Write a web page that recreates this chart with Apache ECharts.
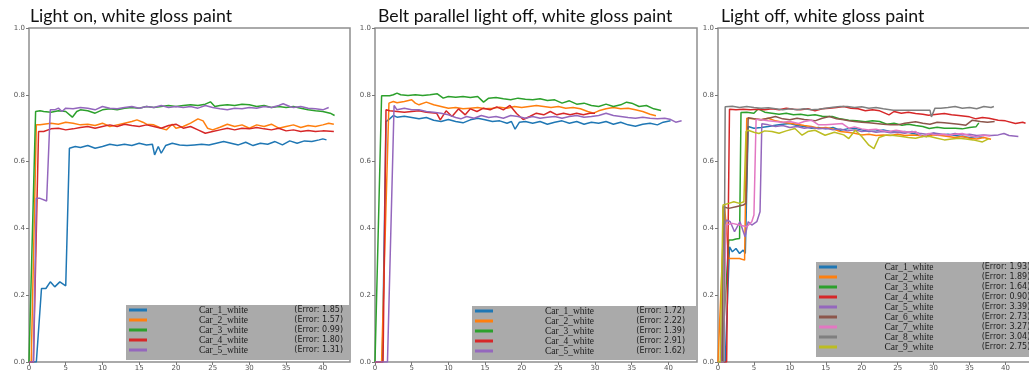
<!DOCTYPE html>
<html>
<head>
<meta charset="utf-8">
<script src="https://cdn.jsdelivr.net/npm/echarts@6/dist/echarts.min.js"></script>
<style>
html, body { margin: 0; padding: 0; background: #fff; }
#chart { width: 1029px; height: 376px; }
</style>
</head>
<body>
<div id="chart"></div>
<script>
// names, colours and titles
var carNames = ['Car_1_white', 'Car_2_white', 'Car_3_white', 'Car_4_white', 'Car_5_white',
	'Car_6_white', 'Car_7_white', 'Car_8_white', 'Car_9_white'];
var titles = ['Light on, white gloss paint', 'Belt parallel light off, white gloss paint', 'Light off, white gloss paint'];
var yTicks = [0, 0.2, 0.4, 0.6, 0.8, 1.0];
var xTicks = [0, 5, 10, 15, 20, 25, 30, 35, 40];

var errors1 = ['1.85', '1.57', '0.99', '1.80', '1.31'];
var errors2 = ['1.72', '2.22', '1.39', '2.91', '1.62'];
var errors3 = ['1.93', '1.89', '1.64', '0.90', '3.39', '2.73', '3.27', '3.04', '2.75'];

// panel 1 : light on  ([seconds, value])
var p1Car1 = [[0,0],[1,0],[1.7,0.22],[2.3,0.22],[2.9,0.24],[3.5,0.225],[4.2,0.24],[5,0.228],[5.5,0.64],[6.3,0.645],[7,0.642],[8,0.648],[9,0.64],[10,0.645],[11,0.652],[12,0.648],[13,0.652],[14,0.648],[15,0.655],[16,0.65],[16.8,0.652],[17.1,0.62],[17.6,0.645],[18.0,0.625],[18.6,0.648],[19.5,0.655],[20.5,0.65],[21.5,0.648],[22.5,0.65],[23.5,0.652],[24.5,0.65],[25.5,0.655],[26.5,0.66],[27.5,0.655],[28.5,0.65],[29.5,0.658],[30.5,0.648],[31.5,0.655],[32.5,0.652],[33.5,0.66],[34.5,0.65],[35.5,0.662],[36.5,0.655],[37.5,0.662],[38.5,0.66],[39.5,0.665],[40,0.668],[40.5,0.665]];
var p1Car2 = [[0,0],[0.3,0],[1,0.71],[1.5,0.71],[2,0.712],[3,0.715],[4,0.712],[5,0.718],[6,0.715],[7,0.71],[8,0.712],[9,0.708],[10,0.715],[11,0.705],[12,0.71],[13,0.715],[14,0.72],[14.7,0.725],[15.5,0.718],[16,0.712],[17,0.71],[18,0.7],[18.7,0.695],[19.5,0.712],[20,0.7],[21,0.705],[22,0.715],[23,0.728],[23.7,0.722],[24.3,0.7],[25,0.695],[26,0.703],[27,0.712],[28,0.705],[29,0.71],[30,0.7],[31,0.71],[32,0.705],[33,0.712],[34,0.7],[35,0.705],[36,0.71],[37,0.702],[38,0.708],[39,0.705],[40,0.71],[40.8,0.715],[41.5,0.712]];
var p1Car3 = [[0,0],[0.9,0.75],[1.5,0.752],[2,0.75],[3,0.748],[4,0.752],[5,0.75],[5.9,0.733],[6.5,0.75],[7,0.755],[8,0.752],[9,0.745],[10,0.755],[11,0.758],[12,0.755],[13,0.76],[14,0.762],[15,0.76],[16,0.765],[17,0.762],[18,0.765],[19,0.768],[20,0.765],[21,0.768],[22,0.77],[23,0.768],[24,0.772],[24.7,0.779],[25.3,0.765],[26,0.768],[27,0.77],[28,0.768],[29,0.772],[30,0.77],[31,0.765],[32,0.768],[33,0.762],[34,0.765],[35,0.762],[36,0.765],[37,0.76],[38,0.755],[39,0.752],[40,0.75],[41,0.745],[41.6,0.738]];
var p1Car4 = [[0,0],[0.6,0],[1.3,0.69],[2,0.69],[3,0.698],[4,0.7],[5,0.695],[6,0.698],[7,0.702],[8,0.705],[9,0.7],[10,0.705],[11,0.71],[12,0.705],[13,0.712],[14,0.708],[15,0.705],[16,0.71],[17,0.705],[18,0.7],[19,0.708],[20,0.712],[21,0.7],[22,0.705],[23,0.695],[24,0.685],[25,0.69],[26,0.695],[27,0.7],[28,0.695],[29,0.7],[30,0.698],[31,0.702],[32,0.698],[33,0.695],[34,0.7],[35,0.692],[36,0.695],[37,0.69],[38,0.693],[39,0.69],[40,0.692],[41.5,0.69]];
var p1Car5 = [[0,0],[0.6,0],[1,0.49],[1.5,0.49],[2.4,0.482],[2.9,0.755],[3.5,0.755],[4,0.76],[4.5,0.75],[5,0.76],[6,0.758],[7,0.762],[8,0.76],[9,0.755],[10,0.765],[11,0.76],[12,0.758],[13,0.762],[14,0.765],[15,0.76],[16,0.765],[17,0.762],[18,0.768],[19,0.762],[20,0.765],[21,0.762],[22,0.765],[23,0.76],[24,0.768],[25,0.762],[26,0.758],[27,0.755],[28,0.76],[29,0.758],[30,0.762],[31,0.76],[32,0.765],[33,0.762],[34,0.768],[34.6,0.773],[35.5,0.765],[36,0.762],[37,0.765],[38,0.76],[39,0.758],[40,0.755],[40.8,0.762]];

// panel 2 : belt parallel light off
var p2Car1 = [[0,0],[1.0,0],[1.5,0.72],[2,0.728],[2.5,0.738],[3,0.733],[4,0.736],[5,0.732],[6,0.728],[7,0.732],[8,0.724],[9,0.72],[10,0.726],[11,0.72],[12,0.716],[13,0.725],[14,0.73],[15,0.725],[16,0.72],[17,0.722],[18,0.715],[18.6,0.72],[19.1,0.697],[19.7,0.718],[20.5,0.72],[21.5,0.715],[22.5,0.72],[23.5,0.712],[24.5,0.718],[25.5,0.722],[26.5,0.715],[27.5,0.72],[28.5,0.712],[29.5,0.718],[30.5,0.715],[31.5,0.72],[32.5,0.712],[33.5,0.718],[34.5,0.71],[35.5,0.706],[36.5,0.712],[37.5,0.715],[38.5,0.71],[39.3,0.718],[40.3,0.722]];
var p2Car2 = [[0,0],[0.9,0],[1.9,0.775],[2.5,0.78],[3,0.776],[4,0.78],[5,0.785],[5.5,0.775],[6,0.77],[7,0.778],[8,0.77],[9,0.765],[10,0.76],[11,0.762],[12,0.758],[13,0.76],[14,0.762],[15,0.758],[16,0.76],[17,0.763],[18,0.76],[19,0.765],[20,0.762],[21,0.765],[22,0.768],[23,0.765],[24,0.762],[25,0.765],[26,0.76],[27,0.762],[28,0.758],[29,0.75],[29.8,0.745],[30.5,0.752],[31.5,0.758],[32.5,0.762],[33.5,0.758],[34.5,0.76],[35.5,0.755],[36.5,0.75],[37.5,0.742],[38.3,0.737]];
var p2Car3 = [[0,0],[0.9,0.797],[2,0.797],[2.5,0.8],[3,0.805],[3.5,0.8],[4.5,0.798],[5.5,0.8],[6.5,0.798],[7.5,0.8],[8.5,0.803],[9.3,0.79],[10,0.795],[11,0.793],[12,0.795],[13,0.792],[14,0.795],[14.8,0.778],[15.5,0.79],[16.5,0.792],[17.5,0.788],[18.5,0.785],[19.5,0.79],[20.5,0.787],[21.5,0.785],[22.5,0.788],[23.5,0.783],[24.5,0.785],[25.5,0.775],[26.5,0.782],[27.5,0.772],[28.5,0.775],[29.5,0.768],[30.5,0.765],[31.5,0.772],[32.5,0.765],[33.5,0.77],[34.3,0.778],[35,0.775],[36,0.765],[37,0.768],[38,0.758],[39,0.753]];
var p2Car4 = [[0,0],[1.1,0],[1.5,0.755],[2,0.752],[3,0.75],[4,0.748],[5,0.75],[6,0.752],[7,0.748],[8.4,0.745],[8.9,0.725],[9.7,0.752],[10.5,0.735],[11.4,0.758],[12.3,0.74],[13,0.758],[13.9,0.75],[14.8,0.76],[15.7,0.755],[16.6,0.764],[17.5,0.755],[18.4,0.768],[19.3,0.744],[20.2,0.726],[21.1,0.735],[22,0.745],[23,0.74],[23.9,0.75],[24.8,0.74],[25.7,0.745],[26.6,0.74],[27.5,0.745],[28.4,0.74],[29.3,0.745],[30,0.745]];
var p2Car5 = [[0,0],[1.7,0],[2.6,0.768],[3,0.755],[4,0.76],[5,0.755],[6,0.755],[7,0.75],[8,0.748],[9,0.745],[10,0.74],[11,0.732],[11.7,0.728],[12.5,0.735],[13.5,0.73],[14.5,0.738],[15.5,0.732],[16.5,0.735],[17.5,0.73],[18.5,0.738],[19.5,0.735],[20.5,0.73],[21.5,0.735],[22.5,0.73],[23.5,0.733],[24.5,0.735],[25.5,0.73],[26.5,0.735],[27.5,0.738],[28.5,0.733],[29.5,0.735],[30.5,0.738],[31.5,0.745],[32.5,0.738],[33.5,0.735],[34.5,0.732],[35.5,0.73],[36.5,0.733],[37.5,0.73],[38.5,0.728],[39.5,0.73],[40.2,0.727],[41,0.718],[41.8,0.722]];

// panel 3 : light off
var p3Car1 = [[0,0],[1.0,0],[1.6,0.345],[2,0.33],[2.5,0.34],[3,0.325],[3.5,0.335],[3.8,0.325],[4.2,0.705],[5,0.70],[6,0.702],[7,0.705],[8,0.709],[9,0.712],[10,0.714],[11,0.708],[12,0.705],[13,0.7],[14,0.702],[15,0.698],[16,0.702],[17,0.694],[18,0.698],[19,0.7],[20,0.695],[21,0.69],[22,0.692],[23,0.695],[24,0.69],[25,0.688],[26,0.69],[27,0.685],[28,0.68],[29,0.675],[30,0.685],[31,0.68],[32,0.682],[33,0.678],[34,0.675],[35,0.672],[36,0.675],[37,0.672]];
var p3Car2 = [[0,0],[0.2,0],[0.9,0.47],[1.5,0.31],[2,0.31],[3,0.31],[3.7,0.305],[4.0,0.73],[5,0.728],[6,0.725],[7,0.73],[8,0.722],[9,0.718],[10,0.715],[11,0.712],[12,0.708],[13,0.705],[14,0.7],[15,0.702],[16,0.698],[17,0.69],[18,0.688],[19,0.685],[20,0.68],[21,0.682],[22,0.678],[23,0.68],[24,0.678],[25,0.682],[26,0.678],[27,0.68],[28,0.678],[29,0.675],[30,0.68],[31,0.678],[32,0.675],[33,0.672],[34,0.675],[35,0.67],[36,0.668],[37,0.672],[38,0.667]];
var p3Car3 = [[0,0],[0.5,0],[1.5,0.365],[2,0.365],[2.5,0.368],[3.0,0.37],[3.2,0.747],[4,0.748],[5,0.745],[5.6,0.758],[6.5,0.748],[7.5,0.745],[8.5,0.742],[9.5,0.745],[10.5,0.74],[11.5,0.742],[12.5,0.738],[13.5,0.74],[14.5,0.736],[15.9,0.735],[17,0.728],[18.2,0.724],[19.3,0.722],[20.5,0.719],[21.5,0.722],[22.5,0.72],[23.5,0.712],[24.5,0.715],[25.6,0.709],[26.5,0.712],[27.5,0.708],[28.5,0.705],[29.4,0.699],[30.5,0.703],[31.5,0.7],[33,0.7],[34,0.698],[35,0.702],[35.9,0.704],[36.3,0.716]];
var p3Car4 = [[0,0],[1.2,0],[1.6,0.757],[2.5,0.755],[3.5,0.757],[4.5,0.755],[5.5,0.757],[6.5,0.755],[7.5,0.758],[8.5,0.755],[9.5,0.76],[10.5,0.757],[11.5,0.755],[12.5,0.758],[13.5,0.752],[14.5,0.758],[15.5,0.76],[16.5,0.762],[17.5,0.765],[18.5,0.76],[19.5,0.758],[20.5,0.752],[21.5,0.755],[22.5,0.752],[23.8,0.74],[24.5,0.75],[25.5,0.745],[26.5,0.748],[27.5,0.744],[28.5,0.742],[29.3,0.739],[30.5,0.742],[31.5,0.744],[32.5,0.74],[33.5,0.738],[35,0.734],[35.9,0.728],[36.8,0.732],[37.7,0.73],[39,0.724],[40,0.722],[41.4,0.714],[42.4,0.718],[42.8,0.715]];
var p3Car5 = [[0,0],[0.5,0],[0.7,0.40],[1.2,0.425],[1.7,0.42],[2.3,0.39],[3.06,0.42],[3.76,0.375],[4.2,0.42],[4.7,0.41],[5.4,0.42],[5.85,0.45],[6.1,0.713],[7,0.71],[8,0.705],[9,0.708],[10,0.702],[11,0.705],[12,0.7],[13,0.703],[14,0.698],[15,0.7],[16,0.695],[17,0.698],[18,0.692],[19,0.695],[20,0.69],[21,0.692],[22,0.688],[23,0.69],[24,0.686],[25,0.688],[26,0.685],[27,0.69],[28,0.685],[29,0.682],[30,0.686],[31,0.683],[32,0.68],[33,0.684],[34,0.68],[35,0.682],[36,0.678],[37,0.68],[38,0.678],[39,0.68],[39.8,0.684],[40.5,0.678],[41.8,0.675]];
var p3Car6 = [[0,0],[0.6,0],[0.7,0.465],[1.5,0.46],[2.5,0.465],[3.5,0.47],[3.9,0.475],[4.2,0.731],[5,0.728],[6,0.725],[7,0.73],[8,0.735],[9,0.728],[10,0.725],[11,0.73],[12,0.726],[13.5,0.722],[14.5,0.73],[15.5,0.735],[16.5,0.728],[17.5,0.725],[18.2,0.722],[19,0.72],[20,0.718],[21,0.716],[22,0.714],[23,0.712],[24,0.71],[25,0.71],[26,0.715],[27.5,0.719],[28.5,0.715],[29.5,0.712],[30.5,0.718],[31.5,0.716],[32.5,0.714],[33.5,0.712],[34.5,0.709],[35.4,0.724],[36.5,0.72],[37.5,0.718],[38.5,0.72]];
var p3Car7 = [[0,0],[0.8,0],[1.1,0.41],[2,0.415],[3,0.41],[4,0.405],[4.7,0.42],[5.0,0.44],[5.3,0.727],[6,0.725],[7,0.722],[8,0.72],[9,0.718],[10,0.72],[11.2,0.714],[12,0.72],[13,0.724],[14,0.71],[15,0.71],[16,0.712],[17.3,0.714],[18.2,0.7],[19,0.704],[20,0.698],[21,0.695],[22,0.697],[23,0.692],[23.8,0.69],[24.8,0.694],[25.8,0.69],[26.8,0.688],[27.5,0.69],[28.4,0.674],[29.3,0.684],[30.5,0.68],[31.5,0.682],[32.1,0.679],[33,0.682],[34,0.684],[35,0.678],[35.9,0.674],[36.8,0.679],[37.9,0.677]];
var p3Car8 = [[0,0],[0.8,0],[1.0,0.764],[2,0.766],[3,0.762],[4,0.765],[5,0.762],[6,0.76],[7,0.761],[8,0.758],[9,0.755],[10,0.758],[11,0.755],[12,0.758],[13,0.755],[14,0.757],[15,0.76],[16,0.763],[17,0.765],[18,0.765],[19,0.762],[20,0.764],[21,0.76],[22,0.762],[23,0.758],[24.4,0.754],[25.5,0.754],[26.5,0.754],[27.5,0.754],[28.5,0.754],[29.5,0.754],[29.7,0.734],[30.2,0.76],[31,0.76],[32,0.762],[33,0.765],[34,0.76],[35,0.762],[36,0.758],[37,0.765],[38,0.762],[38.4,0.765]];
var p3Car9 = [[0,0],[0.3,0],[0.7,0.47],[1.5,0.475],[2.2,0.48],[3,0.475],[3.6,0.48],[3.9,0.69],[4.2,0.694],[5,0.688],[5.7,0.684],[6.5,0.692],[7.5,0.69],[8.5,0.685],[9.5,0.692],[10.7,0.699],[11.7,0.679],[12.5,0.69],[13.5,0.694],[14.9,0.679],[16.2,0.688],[17.5,0.68],[18.2,0.669],[19.1,0.694],[20,0.675],[21,0.649],[21.7,0.639],[22.4,0.672],[23.5,0.68],[24.5,0.678],[25.6,0.675],[26.5,0.672],[27.5,0.67],[28.5,0.675],[29.5,0.675],[30.5,0.67],[31.5,0.665],[32.5,0.668],[33.5,0.67],[34.5,0.668],[35.5,0.665],[36.8,0.659],[37.7,0.669]];

var panel1 = [p1Car1, p1Car2, p1Car3, p1Car4, p1Car5];
var panel2 = [p2Car1, p2Car2, p2Car3, p2Car4, p2Car5];
var panel3 = [p3Car1, p3Car2, p3Car3, p3Car4, p3Car5, p3Car6, p3Car7, p3Car8, p3Car9];

var colors = ['#1f77b4', '#ff7f0e', '#2ca02c', '#d62728', '#9467bd', '#8c564b', '#e377c2', '#7f7f7f', '#bcbd22'];

function showChart(divId) {
	var chart = echarts.init(document.getElementById(divId), null, { renderer: 'canvas' });
	var option = genOption();
	chart.setOption(option, true);
}

function genOption() {
	var grids = [
		{ left: 29, top: 28, width: 321, height: 334 },
		{ left: 375, top: 28, width: 322, height: 334 },
		{ left: 718, top: 28, width: 314, height: 334 }
	];
	var xMax = [43.7, 43.9, 43.7];
	var panels = [panel1, panel2, panel3];
	var errs = [errors1, errors2, errors3];
	var titleLeft = [30, 378, 721];

	var xAxis = [], yAxis = [], series = [], title = [], legend = [];

	for (var p = 0; p < 3; p++) {
		grids[p].show = true;
		grids[p].borderColor = '#8e8e8e';
		grids[p].borderWidth = 1.5;
		grids[p].backgroundColor = '#fff';
		grids[p].containLabel = false;
		grids[p].outerBoundsMode = 'none';

		xAxis.push({
			type : 'value',
			gridIndex : p,
			min : 0,
			max : xMax[p],
			interval : 5,
			name : 'seconds',
			nameLocation : 'middle',
			nameGap : 11,
			nameTextStyle : { fontSize : 7, color : '#555', fontFamily : 'DejaVu Sans', verticalAlign : 'top' },
			axisLine : { show : false },
			axisTick : { length : 3, lineStyle : { color : '#777' } },
			splitLine : { show : false },
			axisLabel : {
				fontSize : 7, color : '#555', fontFamily : 'DejaVu Sans', margin : 3,
				showMaxLabel : false,
				formatter : function (v) { return xTicks.indexOf(v) >= 0 ? String(v) : ''; }
			}
		});
		yAxis.push({
			type : 'value',
			gridIndex : p,
			min : 0,
			max : 1,
			interval : 0.2,
			axisLine : { show : false },
			axisTick : { length : 3, lineStyle : { color : '#777' } },
			splitLine : { show : false },
			axisLabel : {
				fontSize : 7, color : '#555', fontFamily : 'DejaVu Sans', margin : 4,
				formatter : function (v) { return v.toFixed(1); }
			}
		});
		title.push({
			text : titles[p],
			left : titleLeft[p],
			top : 7,
			padding : 0,
			textStyle : { fontFamily : 'Lato', fontWeight : 'normal', fontSize : 17.7, color : '#111' }
		});

		var names = [];
		for (var i = 0; i < panels[p].length; i++) {
			names.push(carNames[i]);
			series.push({
				name : carNames[i],
				type : 'line',
				xAxisIndex : p,
				yAxisIndex : p,
				showSymbol : false,
				symbol : 'none',
				animation : false,
				color : colors[i],
				lineStyle : { width : 1.5, color : colors[i] },
				data : panels[p][i]
			});
		}
		legend.push(genLegend(p, names, errs[p]));
	}

	return {
		animation : false,
		title : title,
		grid : grids,
		xAxis : xAxis,
		yAxis : yAxis,
		legend : legend,
		series : series
	};
}

function genLegend(p, names, errs) {
	var pos = [
		{ left : 126, top : 305, nameW : 143, errW : 48, errAlign : 'right', lh : 10.3, pad : [0, 8, 5, 3] },
		{ left : 472, top : 306, nameW : 143, errW : 44, errAlign : 'right', lh : 10.3, pad : [0, 12, 4, 3] },
		{ left : 816, top : 262, nameW : 134, errW : 60, errAlign : 'left', lh : 10.5, pad : [0, 6, 5, 3] }
	][p];
	return {
		orient : 'vertical',
		left : pos.left,
		top : pos.top,
		padding : pos.pad,
		itemGap : 0,
		itemWidth : 18,
		itemHeight : 3,
		icon : 'rect',
		selectedMode : false,
		backgroundColor : '#aaaaaa',
		data : names,
		formatter : function (name) {
			var k = carNames.indexOf(name);
			return '{n|' + name + '}{e|(Error: ' + errs[k] + ')}';
		},
		textStyle : {
			rich : {
				n : { width : pos.nameW, align : 'center', fontFamily : 'Liberation Serif', fontSize : 9.5, lineHeight : pos.lh, color : '#1a1a1a' },
				e : { width : pos.errW, align : pos.errAlign, fontFamily : 'DejaVu Sans', fontSize : 8, lineHeight : pos.lh, color : '#222' }
			}
		}
	};
}

showChart('chart');
</script>
</body>
</html>
